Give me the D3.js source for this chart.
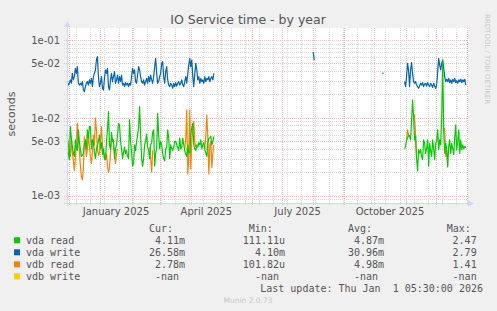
<!DOCTYPE html>
<html>
<head>
<meta charset="utf-8">
<script src="https://cdn.jsdelivr.net/npm/d3@7"></script>
<style>
  html, body { margin: 0; padding: 0; background: #f0f0f0; }
  svg { display: block; }
  text { font-family: "DejaVu Sans", sans-serif; fill: #555; }
  .mono { font-family: "DejaVu Sans Mono", monospace; font-size: 10px; white-space: pre; }
</style>
</head>
<body>
<svg id="chart"></svg>
<script>
const width = 497;
const height = 311;

// daily values, milliseconds
const startA = "2024-11-29";
const startB = "2025-08-01";
const startC = "2025-10-09";
const startD = "2025-10-31";

const vdaReadA = [
  6.3, 3.5, 2.9, 7.7, 5.5, 4.3, 3.5, 3.2, 5.2, 4.0,
  3.8, 7.0, 5.0, 3.9, 3.2, 3.3, 3.5, 4.5, 5.2, 4.0,
  7.0, 5.5, 7.7, 7.7, 4.0, 5.2, 4.8, 3.6, 3.0, 4.0,
  4.5, 5.0, 6.0, 4.0, 4.8, 3.4, 4.0, 3.0, 2.9, 5.0,
  7.0, 12.0, 4.5, 3.9, 6.5, 5.0, 5.2, 3.0, 4.0, 4.5,
  6.0, 8.5, 8.0, 5.0, 4.0, 3.0, 3.6, 4.2, 3.5, 3.8,
  3.2, 3.0, 9.4, 5.0, 3.6, 2.4, 2.6, 4.5, 3.8, 5.0,
  6.0, 7.5, 13.9, 6.0, 3.0, 2.4, 3.0, 4.5, 5.0, 6.2,
  4.3, 3.8, 3.0, 4.5, 4.8, 6.5, 7.0, 2.4, 3.5, 4.0,
  11.4, 6.0, 4.0, 5.0, 4.5, 3.5, 3.0, 2.8, 4.0, 4.2,
  7.0, 5.5, 3.0, 4.5, 4.0, 3.8, 4.2, 5.0, 5.0, 4.5,
  4.2, 3.8, 5.5, 4.0, 4.2, 5.5, 4.5, 3.8, 3.4, 3.2,
  4.5, 3.5, 3.6, 6.0, 7.5, 8.5, 4.5, 4.0, 3.8, 4.5,
  4.2, 4.8, 4.5, 5.2, 4.0, 4.5, 4.8, 4.0, 3.5, 3.2,
  4.8, 5.5, 5.5, 5.8, 4.5, 5.0, 5.8
];
const vdaWriteA = [
  29.2, 26.4, 27.8, 30.7, 27.8, 37.3, 30.7, 33.8, 43.2, 37.3,
  45.4, 27.8, 26.4, 27.8, 26.4, 29.2, 22.8, 21.7, 25.2, 27.8,
  29.2, 26.4, 30.7, 27.8, 32.2, 25.2, 33.8, 37.3, 41.2, 55.3,
  61.1, 33.8, 25.2, 27.8, 33.8, 24.0, 22.8, 32.2, 41.2, 37.3,
  43.2, 25.2, 22.8, 30.7, 37.3, 29.2, 33.8, 39.2, 27.8, 30.7,
  35.5, 27.8, 33.8, 29.2, 35.5, 26.4, 27.8, 25.2, 28.3, 26.4,
  27.8, 25.2, 27.8, 26.4, 33.8, 43.2, 37.3, 41.2, 29.2, 27.8,
  35.5, 45.4, 41.2, 33.8, 29.2, 27.8, 30.7, 26.4, 29.2, 32.2,
  27.8, 33.8, 29.2, 35.5, 30.7, 27.8, 33.8, 45.4, 58.1, 37.3,
  27.8, 29.2, 33.8, 37.3, 50.1, 52.7, 33.8, 27.8, 39.2, 45.4,
  30.7, 26.4, 25.2, 27.8, 26.4, 24.0, 27.8, 25.2, 28.3, 25.6,
  27.8, 29.2, 26.4, 27.8, 30.7, 26.4, 25.2, 29.2, 33.8, 27.8,
  37.3, 47.7, 58.1, 45.4, 55.3, 33.8, 25.2, 37.3, 50.1, 41.2,
  30.7, 33.8, 27.8, 32.2, 29.2, 30.7, 27.8, 33.8, 29.2, 32.2,
  30.7, 33.8, 29.2, 32.2, 33.8, 30.7, 37.3
];
const vdbReadA = [
  5.5, 4.7, 4.0, 3.2, 5.2, 3.5, 2.9, 2.1, 3.0, 5.0,
  8.5, 5.0, 3.9, 2.4, 1.77, 1.6, 2.2, 5.7, 4.5, 3.2,
  4.0, 6.3, 4.2, 3.2, 2.6, 3.6, 6.0, 4.5, 9.9, 7.0,
  4.0, 3.3, 3.5, 5.0, 7.7, 4.5, 3.8, 3.0, 2.9, 3.5,
  2.4, 2.0, 2.3, 3.5, 5.0, 5.5, 4.5, 3.4, 2.6, 3.5, 4.0,
  null, null, null, null, null, null, null, null, null, null,
  null, null, null, null, null, null, null, null, null, null,
  null, null, null, null, null, null, null, null, null, null, null,
  4.2, 3.0, 2.0, 3.8,
  null, null, null, null, null, null, null, null, null, null,
  null, null, null, null, null, null, null, null, null, null,
  null, null, null, null, null, null, null, null, null, null, null,
  4.0, 5.5, 12.6, 1.9, 3.0, 12.6, 2.2, 5.0, 7.0, 9.0, 5.0, 4.2,
  null, null, null, null, null, null, null, null,
  4.0, 6.0, 10.9, 5.5, 1.9, 4.5, 5.0, 2.3, 3.5, 4.5
];

const vdaWriteB = [70, 55];
const vdaWriteC = [37, 38];

const vdaReadD = [
  4.0, 4.3, 5.2, 5.5, 6.0, 5.8, 5.2, 9.0, 16.9, 10.0,
  5.2, 5.8, 3.0, 2.1, 3.9, 3.5, 3.9, 3.2, 2.9, 5.2,
  4.7, 3.5, 4.0, 5.2, 2.4, 4.7, 3.8, 3.2, 5.2, 4.0,
  2.9, 4.7, 5.0, 7.0, 3.9, 5.2, 4.5, 10.0, 55.0, 7.0,
  3.5, 4.7, 3.9, 2.35, 4.3, 5.2, 3.5, 4.7, 4.0, 3.4,
  5.5, 8.1, 3.9, 5.0, 7.0, 3.5, 5.2, 3.9, 4.5, 4.0,
  4.3, 4.11
];
const vdaWriteD = [
  29.2, 25.2, 33.8, 50.1, 41.2, 25.2, 41.2, 51.2, 37.3, 29.2,
  27.8, 29.2, 26.4, 25.2, 24.0, 25.6, 27.8, 26.4, 28.3, 25.2,
  27.2, 27.8, 25.6, 28.3, 26.4, 25.2, 27.8, 26.4, 24.6, 27.8,
  25.6, 24.0, 26.4, 39.2, 58.1, 47.7, 41.2, 50.1, 55.3, 43.2,
  33.8, 29.2, 31.3, 29.2, 32.2, 28.3, 30.7, 27.8, 31.3, 29.2,
  32.2, 28.3, 30.0, 27.8, 30.7, 29.2, 31.3, 28.3, 30.7, 29.2,
  31.3, 26.6
];
const vdbReadD = [
  null, null, 5.2, 7.0, 6.0, 5.8, null, null, null, 10.0,
  10.9, 5.8, 3.0, null, null, null, null, null, null, null,
  null, null, null, null, null, null, null, null, null, null,
  null, null, null, null, null, null, null, null, null, 7.0,
  7.3, 3.2, 3.9, 2.35, null, null, null, null, null, null,
  null, null, null, null, null, null, null, null, null, null,
  null, null
];

const yTicks = [1e-3, 5e-3, 1e-2, 5e-2, 1e-1];
const xLabelDates = ["2025-01-16", "2025-04-16", "2025-07-16", "2025-10-16"];

const legendNames = ["vda read", "vda write", "vdb read", "vdb write"];
const legendColors = ["#00cc00", "#0066b3", "#ff8000", "#ffcc00"];
const curVals = ["4.11m", "26.58m", "2.78m", "-nan "];
const minVals = ["111.11u", "4.10m", "101.82u", "-nan "];
const avgVals = ["4.87m", "30.96m", "4.98m", "-nan "];
const maxVals = ["2.47 ", "2.79 ", "1.41 ", "-nan "];

const toPoints = (start, vals) => {
  const t0 = Date.parse(start + "T00:00:00Z");
  return vals.map((v, i) => ({ date: new Date(t0 + i * 864e5), v }));
};

const series = [
  { color: "#0066b3", parts: [[startA, vdaWriteA], [startB, vdaWriteB], [startC, vdaWriteC], [startD, vdaWriteD]] },
  { color: "#ff8000", parts: [[startA, vdbReadA], [startD, vdbReadD]] },
  { color: "#00cc00", parts: [[startA, vdaReadA], [startD, vdaReadD]] },
];

const plotLeft = 67, plotRight = 467, plotTop = 28, plotBottom = 203;

const x = d3
  .scaleUtc()
  .domain([new Date(Date.UTC(2024, 10, 28, 16)), new Date(Date.UTC(2026, 0, 1, 5, 30))])
  .range([plotLeft, plotRight]);

const y = d3.scaleLog().domain([1e-3, 1e-1]).range([195.7, 40]);

const svg = d3.select("#chart").attr("width", width).attr("height", height);

svg.append("rect").attr("width", width).attr("height", height).attr("fill", "#f0f0f0");
svg.append("rect")
  .attr("x", plotLeft).attr("y", plotTop)
  .attr("width", plotRight - plotLeft + 1).attr("height", plotBottom - plotTop)
  .attr("fill", "#fff");

// grid
const minorY = [];
[1e-4, 1e-3, 1e-2, 1e-1].forEach((dec) =>
  [2, 3, 4, 6, 7, 8, 9].forEach((m) => {
    const yy = y(m * dec);
    if (yy > plotTop && yy < plotBottom - 1) minorY.push(m * dec);
  })
);
const [t0, t1] = x.domain();
const minorX = d3.utcSunday.range(t0, t1).filter((d, i) => i % 2 === 1);
const majorX = d3.utcMonth.range(t0, t1);

const grid = svg.append("g").attr("stroke-width", 1).attr("stroke-dasharray", "1,1");
grid.selectAll(".gy").data(minorY).enter().append("line")
  .attr("x1", plotLeft - 3).attr("x2", plotRight + 1)
  .attr("y1", (d) => Math.round(y(d)) + 0.5).attr("y2", (d) => Math.round(y(d)) + 0.5)
  .attr("stroke", "#dadada");
grid.selectAll(".gx").data(minorX).enter().append("line")
  .attr("x1", (d) => Math.round(x(d)) + 0.5).attr("x2", (d) => Math.round(x(d)) + 0.5)
  .attr("y1", plotTop).attr("y2", plotBottom + 2)
  .attr("stroke", "#dadada");
grid.selectAll(".my").data(yTicks).enter().append("line")
  .attr("x1", plotLeft - 3).attr("x2", plotRight + 1)
  .attr("y1", (d) => Math.round(y(d)) + 0.5).attr("y2", (d) => Math.round(y(d)) + 0.5)
  .attr("stroke", "#f3bcbc");
grid.selectAll(".mx").data(majorX).enter().append("line")
  .attr("x1", (d) => Math.round(x(d)) + 0.5).attr("x2", (d) => Math.round(x(d)) + 0.5)
  .attr("y1", plotTop).attr("y2", plotBottom + 2)
  .attr("stroke", "#f3bcbc");

// axes labels
const fmtY = (d) => {
  const e = Math.floor(Math.log10(d) + 1e-9);
  const m = Math.round(d / Math.pow(10, e));
  return `${m}e-${String(-e).padStart(2, "0")}`;
};
const yAxis = svg.append("g")
  .attr("transform", `translate(${plotLeft},0)`)
  .call(d3.axisLeft(y).tickValues(yTicks).tickFormat(fmtY).tickSize(0).tickPadding(7));
yAxis.select(".domain").remove();
yAxis.selectAll("text").attr("font-family", "DejaVu Sans").attr("font-size", 10).attr("fill", "#555");

const xAxis = svg.append("g")
  .attr("transform", `translate(0,${plotBottom})`)
  .call(
    d3.axisBottom(x)
      .tickValues(xLabelDates.map((s) => new Date(s + "T00:00:00Z")))
      .tickFormat(d3.utcFormat("%B %Y"))
      .tickSize(0)
      .tickPadding(4.5)
  );
xAxis.select(".domain").remove();
xAxis.selectAll("text").attr("font-family", "DejaVu Sans").attr("font-size", 10).attr("fill", "#555");

// series
const line = d3.line()
  .defined((d) => d.v != null)
  .x((d) => x(d.date))
  .y((d) => y(d.v / 1000));

series.forEach((s) => {
  s.parts.forEach(([start, vals]) => {
    svg.append("path")
      .datum(toPoints(start, vals))
      .attr("fill", "none")
      .attr("stroke", s.color)
      .attr("stroke-width", 1.2)
      .attr("stroke-linejoin", "round")
      .attr("d", line);
  });
});

// axis lines + arrows
const axisColor = "#cfd6f8";
svg.append("line").attr("x1", plotLeft + 0.5).attr("x2", plotLeft + 0.5).attr("y1", plotBottom + 3).attr("y2", 26)
  .attr("stroke", axisColor);
svg.append("path").attr("d", `M${plotLeft + 0.5},21 L${plotLeft - 2.5},27 L${plotLeft + 3.5},27 Z`).attr("fill", axisColor);
svg.append("line").attr("x1", plotLeft - 3).attr("x2", plotRight + 3).attr("y1", plotBottom + 0.5).attr("y2", plotBottom + 0.5)
  .attr("stroke", axisColor);
svg.append("path").attr("d", `M${plotRight + 7},${plotBottom + 0.5} L${plotRight + 1},${plotBottom - 2.5} L${plotRight + 1},${plotBottom + 3.5} Z`)
  .attr("fill", axisColor);

// title and side texts
svg.append("text").attr("x", 248).attr("y", 24).attr("text-anchor", "middle")
  .attr("font-size", 12.5).text("IO Service time - by year");
svg.append("text").attr("transform", "translate(14.5,114) rotate(-90)").attr("text-anchor", "middle")
  .attr("font-size", 11).text("seconds");
svg.append("text").attr("transform", "translate(485,14) rotate(90)")
  .attr("font-size", 7).style("fill", "#c8c8c8").text("RRDTOOL / TOBI OETIKER");

// legend
const heads = [["Cur:", 149], ["Min:", 248.7], ["Avg:", 348], ["Max:", 446.7]];
svg.selectAll(".head").data(heads).enter().append("text")
  .attr("class", "mono").attr("x", (d) => d[1]).attr("y", 231.5).text((d) => d[0]);

const cols = [[curVals, 185], [minVals, 285], [avgVals, 384], [maxVals, 482.7]];
legendNames.forEach((name, i) => {
  const yy = 243.5 + i * 12;
  svg.append("rect").attr("x", 14).attr("y", yy - 6.2).attr("width", 6).attr("height", 6)
    .attr("fill", legendColors[i]);
  svg.append("text").attr("class", "mono").attr("x", 26).attr("y", yy).text(name);
  cols.forEach(([vals, xe]) => {
    svg.append("text").attr("class", "mono").attr("x", xe).attr("y", yy)
      .attr("text-anchor", "end").text(vals[i]);
  });
});

svg.append("text").attr("class", "mono").attr("x", 483).attr("y", 291.5).attr("text-anchor", "end")
  .text("Last update: Thu Jan  1 05:30:00 2026");
svg.append("text").attr("x", 248).attr("y", 302.5).attr("text-anchor", "middle")
  .attr("font-size", 7.5).style("fill", "#c8c8c8").text("Munin 2.0.73");
</script>
</body>
</html>
